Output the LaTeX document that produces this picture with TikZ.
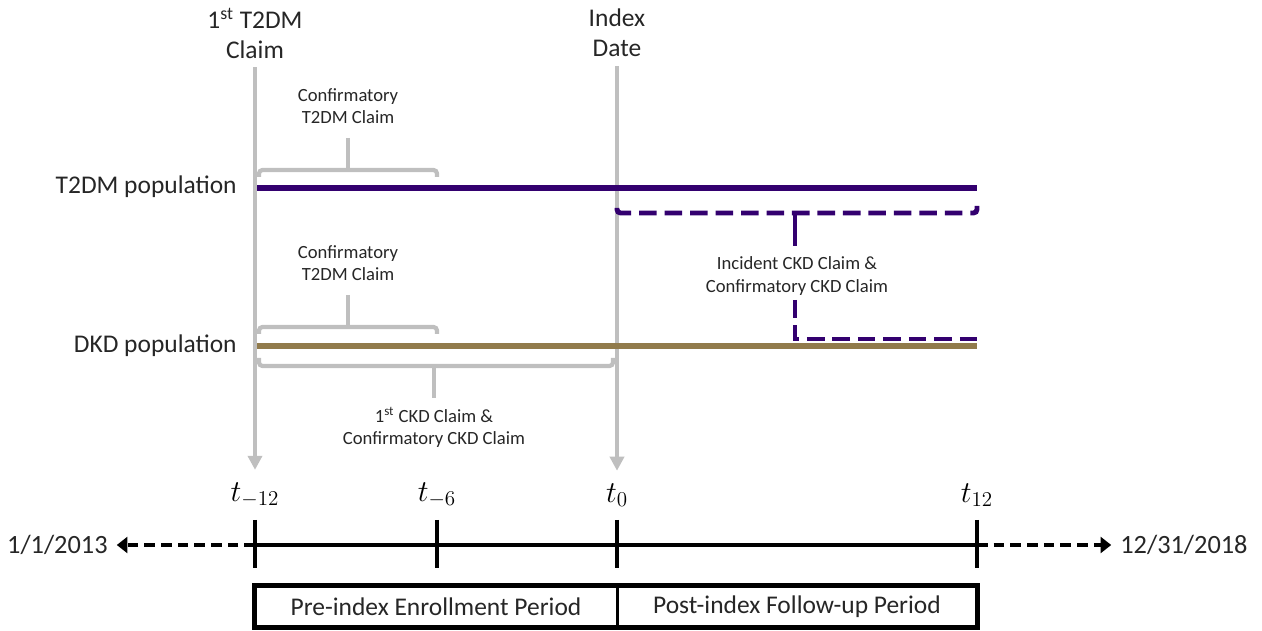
\documentclass[tikz,border=0pt]{standalone}
\usepackage{fontspec}
\setmainfont{Carlito}
\usepackage{xcolor}
\definecolor{uwpurple}{RGB}{51,0,111}
\definecolor{uwgold}{RGB}{145,123,76}
\definecolor{claimgray}{RGB}{191,191,191}
\definecolor{labelgray}{RGB}{38,38,38}
\usepackage{tikz}
\usetikzlibrary{arrows.meta,positioning}

\begin{document}
\begin{tikzpicture}[x=0.02cm,y=-0.02cm,
  every node/.style={inner sep=0pt,text=labelgray},
  bigtext/.style={font=\fontsize{14.5}{17}\selectfont,align=center},
  smalltext/.style={font=\fontsize{10.6}{12.6}\selectfont,align=center},
  tlabel/.style={font=\fontsize{17}{19}\selectfont,text=black},
  claimline/.style={draw=claimgray,line width=2.8pt,-{Triangle[width=8pt,length=8pt]}},
  bracket/.style={draw=claimgray,line width=2.4pt,rounded corners=2pt},
  popline/.style={line width=3pt},
  ckdline/.style={draw=uwpurple,line width=2.8pt,dash pattern=on 10pt off 4.5pt},
  axisline/.style={line width=2.3pt},
  datearrow/.style={line width=2.6pt,dash pattern=on 6pt off 3.5pt,-{Triangle[width=9pt,length=6pt]}}]

  \useasboundingbox (0,0) rectangle (1262,631);

  % Claim markers
  \node[bigtext] (firstclaim) at (255,33) {1\textsuperscript{st} T2DM\\Claim};
  \node[bigtext] (indexdate) at (617,33) {Index\\Date};

  % Time points
  \foreach \x/\name/\lab in {255/tm12/{t_{-12}},437/tm6/{t_{-6}},617/t0/{t_0},977/t12/{t_{12}}} {
    \node[tlabel] (\name) at (\x,495) {$\lab$};
    \draw[axisline] (\x,520) -- (\x,568);
  }

  \draw[claimline,shorten <=5pt,shorten >=7pt] (firstclaim) -- (tm12);
  \draw[claimline,shorten <=5pt,shorten >=7pt] (indexdate) -- (t0);

  % Populations
  \node[bigtext,anchor=east] (t2dmpop) at (237,187) {T2DM population};
  \node[bigtext,anchor=east] (dkdpop) at (237,346) {DKD population};
  \coordinate (t2dmend) at (977,188);
  \coordinate (dkdend) at (977,346);
  \draw[popline,draw=uwpurple] (t2dmpop.east -| firstclaim) ++(2,1) -- (t2dmend);
  \draw[popline,draw=uwgold] (dkdpop.east -| firstclaim) ++(2,0) -- (dkdend);

  % Confirmatory T2DM claims
  \node[smalltext] (conft2dm) at (348,106) {Confirmatory\\T2DM Claim};
  \draw[bracket] (259,177) -- (259,170) -- (437,170) -- (437,177);
  \draw[bracket] (conft2dm) ++(0,32) -- (348,170);
  \node[smalltext] (conft2dmdkd) at (348,263) {Confirmatory\\T2DM Claim};
  \draw[bracket] (259,334) -- (259,327) -- (437,327) -- (437,334);
  \draw[bracket] (conft2dmdkd) ++(0,32) -- (348,327);

  % 1st CKD claim
  \node[smalltext] (firstckd) at (434,427) {1\textsuperscript{st} CKD Claim \&\\Confirmatory CKD Claim};
  \draw[bracket] (259,358) -- (259,366) -- (613,366) -- (613,358);
  \draw[bracket] (434,366) -- (434,398);

  % Incident CKD claim
  \node[smalltext] (incckd) at (797,276) {Incident CKD Claim \&\\Confirmatory CKD Claim};
  \draw[ckdline,rounded corners=2pt] (617,208) -- (617,213) -- (977,213) -- (977,206);
  \draw[draw=uwpurple,line width=2.8pt] (795,213) -- (795,246);
  \draw[ckdline] (795,300) -- (795,339) -- (977,339);

  % Timeline
  \draw[axisline] (tm12 |- 0,545) -- (t12 |- 0,545);
  \node[bigtext,anchor=east,font=\fontsize{15}{17}\selectfont] (startdate) at (108,545) {1/1/2013};
  \node[bigtext,anchor=west,font=\fontsize{15}{17}\selectfont] (enddate) at (1120,545) {12/31/2018};
  \draw[datearrow,shorten >=5pt] (tm12 |- 0,545) -- (startdate);
  \draw[datearrow,shorten >=5pt] (t12 |- 0,545) -- (enddate);

  % Periods
  \node[bigtext,minimum width=7.24cm,minimum height=0.82cm] (preperiod) at (436,606.5) {Pre-index Enrollment Period};
  \node[bigtext,minimum width=7.2cm,minimum height=0.82cm] (postperiod) at (797,606.5) {Post-index Follow-up Period};
  \draw[line width=2.8pt] (preperiod.north west) rectangle (postperiod.south east);
  \draw[line width=1.6pt] (preperiod.north east) -- (preperiod.south east);
\end{tikzpicture}
\end{document}
